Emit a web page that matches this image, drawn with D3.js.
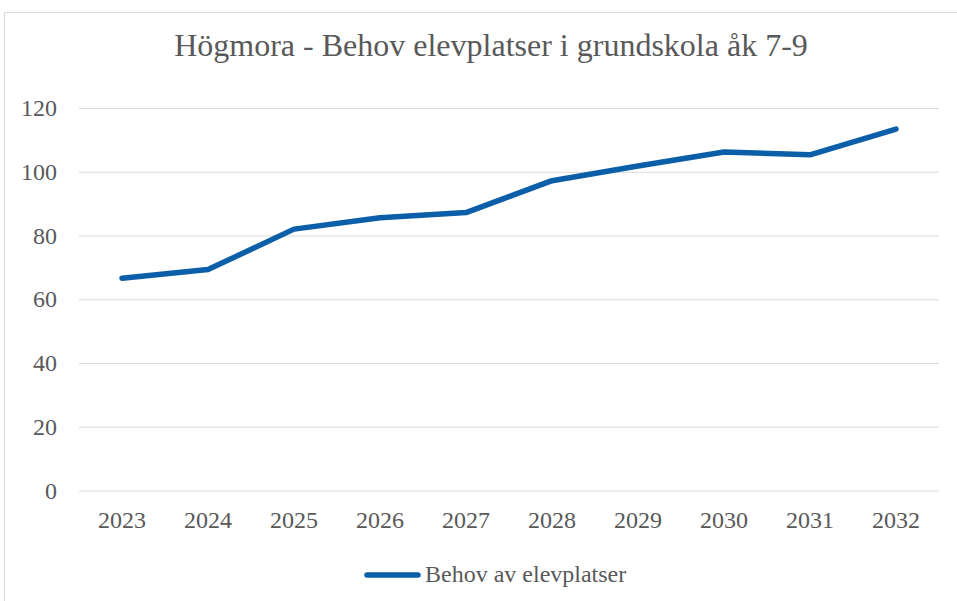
<!DOCTYPE html>
<html>
<head>
    <meta charset="utf-8">
    <title>Högmora - Behov elevplatser</title>
    <style>
        html, body { margin: 0; padding: 0; background: #fff; }
        svg { display: block; font-family: "Liberation Serif", "Times New Roman", serif; }
        .axis path { display: none; }
        .axis line { stroke: #d9d9d9; }
        .axis text { fill: #595959; font-family: "Liberation Serif", "Times New Roman", serif; }
    </style>
    <script src="https://d3js.org/d3.v7.min.js"></script>
</head>
<body>
<svg id="chart"></svg>
<script>
// data
const years = ["2023", "2024", "2025", "2026", "2027", "2028", "2029", "2030", "2031", "2032"];
const behov = [66.6, 69.3, 82.0, 85.6, 87.2, 97.2, 101.8, 106.2, 105.3, 113.4];
const yTicks = [0, 20, 40, 60, 80, 100, 120];
const seriesName = "Behov av elevplatser";
const title = "Högmora - Behov elevplatser i grundskola åk 7-9";

const width = 957, height = 601;
const margin = { top: 108, right: 18, bottom: 110, left: 79 };
const innerW = width - margin.left - margin.right;
const innerH = 490.5 - margin.top;

const svgRoot = d3.select("#chart").attr("width", width).attr("height", height);

// chart frame
svgRoot.append("rect")
    .attr("x", 4.5).attr("y", 12.5)
    .attr("width", width + 10).attr("height", height + 10)
    .attr("fill", "#fff")
    .attr("stroke", "#d9d9d9");

svgRoot.append("text")
    .attr("x", 491)
    .attr("y", 56)
    .attr("text-anchor", "middle")
    .attr("font-size", "32px")
    .attr("fill", "#595959")
    .text(title);

const svg = svgRoot.append("g")
    .attr("transform", "translate(" + margin.left + "," + margin.top + ")");

const x = d3.scaleBand().domain(years).range([0, 860]);
const y = d3.scaleLinear().domain([0, 120]).range([innerH, 0]);

svg.append("g")
    .attr("class", "y axis")
    .call(d3.axisLeft(y).tickValues(yTicks).tickSizeInner(-860).tickSizeOuter(0).tickPadding(22))
    .selectAll("text")
    .attr("font-size", "24px")
    .attr("dy", "0.32em");

svg.append("g")
    .attr("class", "x axis")
    .attr("transform", "translate(0," + innerH + ")")
    .call(d3.axisBottom(x).tickSize(0).tickPadding(20))
    .selectAll("text")
    .attr("font-size", "24px");

const line = d3.line()
    .x((d, i) => x(years[i]) + x.bandwidth() / 2)
    .y(d => y(d));

svg.append("path")
    .datum(behov)
    .attr("d", line)
    .attr("fill", "none")
    .attr("stroke", "#0b5ea8")
    .attr("stroke-width", 5.5)
    .attr("stroke-linejoin", "round")
    .attr("stroke-linecap", "round");

// legend
const lg = svgRoot.append("g").attr("transform", "translate(365,575)");
lg.append("line")
    .attr("x1", 2).attr("x2", 53)
    .attr("stroke", "#0b5ea8")
    .attr("stroke-width", 5.5)
    .attr("stroke-linecap", "round");
lg.append("text")
    .attr("x", 60)
    .attr("y", 7)
    .attr("font-size", "24px")
    .attr("fill", "#595959")
    .text(seriesName);
</script>
</body>
</html>
